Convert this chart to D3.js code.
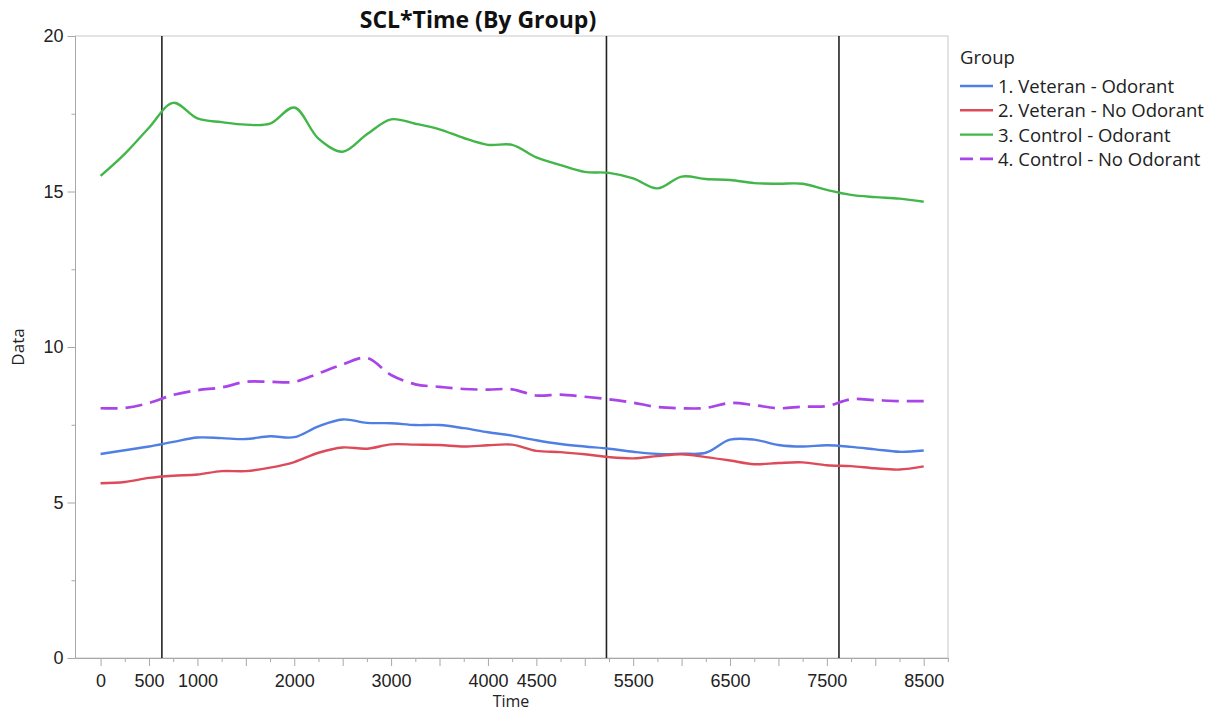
<!DOCTYPE html>
<html>
<head>
<meta charset="utf-8">
<script src="https://cdn.jsdelivr.net/npm/d3@7/dist/d3.min.js"></script>
<style>
  html, body { margin: 0; padding: 0; background: #fff; }
  svg { display: block; font-family: "Open Sans", "Noto Sans", sans-serif; }
</style>
</head>
<body>
<svg id="chart" width="1216" height="712"></svg>
<script>
// ---- data ----
const times = d3.range(0, 8501, 250);
const groups = ["1. Veteran - Odorant", "2. Veteran - No Odorant", "3. Control - Odorant", "4. Control - No Odorant"];
const veteranOdorant = [6.56, 6.68, 6.80, 6.95, 7.09, 7.07, 7.04, 7.13, 7.10, 7.45, 7.67, 7.56, 7.55, 7.49, 7.49, 7.39, 7.26, 7.15, 7.00, 6.88, 6.80, 6.73, 6.63, 6.56, 6.57, 6.60, 7.02, 7.02, 6.85, 6.80, 6.84, 6.79, 6.71, 6.63, 6.67];
const veteranNoOdorant = [5.62, 5.66, 5.79, 5.86, 5.90, 6.01, 6.01, 6.12, 6.30, 6.60, 6.77, 6.73, 6.87, 6.86, 6.85, 6.80, 6.84, 6.86, 6.66, 6.62, 6.55, 6.46, 6.42, 6.49, 6.55, 6.46, 6.35, 6.23, 6.27, 6.29, 6.20, 6.17, 6.10, 6.06, 6.16];
const controlOdorant = [15.50, 16.21, 17.05, 17.85, 17.35, 17.23, 17.15, 17.18, 17.70, 16.70, 16.28, 16.84, 17.32, 17.18, 17.00, 16.72, 16.50, 16.50, 16.10, 15.85, 15.63, 15.60, 15.42, 15.10, 15.48, 15.40, 15.37, 15.27, 15.25, 15.25, 15.05, 14.89, 14.82, 14.77, 14.67];
const controlNoOdorant = [8.03, 8.04, 8.20, 8.46, 8.61, 8.70, 8.88, 8.88, 8.88, 9.15, 9.44, 9.65, 9.10, 8.80, 8.72, 8.65, 8.63, 8.64, 8.44, 8.47, 8.40, 8.32, 8.21, 8.07, 8.03, 8.04, 8.20, 8.13, 8.03, 8.08, 8.10, 8.32, 8.29, 8.26, 8.26];
const refLines = [633, 5224, 7625];
const xTickLabels = [0, 500, 1000, 2000, 3000, 4000, 4500, 5500, 6500, 7500, 8500];
const yTickLabels = [0, 5, 10, 15, 20];

(function () {
const seriesValues = [veteranOdorant, veteranNoOdorant, controlOdorant, controlNoOdorant];
const colors = ["#4f7fe3", "#dd4a59", "#42b649", "#a844e8"];
const dashes = [null, null, null, "17,8"];

// ---- layout ----
const svg = d3.select("#chart");
const pLeft = 75.5, pRight = 948, pTop = 36, pBottom = 658;
const x = d3.scaleLinear().domain([-259, 8751]).range([pLeft, pRight]);
const y = d3.scaleLinear().domain([0, 20]).range([pBottom, pTop]);

// frame
svg.append("rect").attr("x", pLeft).attr("y", pTop).attr("width", pRight - pLeft).attr("height", pBottom - pTop)
  .attr("fill", "none").attr("stroke", "#c8c8c8").attr("stroke-width", 1);

// x axis
const xMinor = d3.range(0, 8751, 250).filter(v => v % 500 !== 0);
const xMajor = d3.range(0, 8751, 500);
const gx = svg.append("g").attr("transform", `translate(0,${pBottom})`);
gx.append("g").call(d3.axisBottom(x).tickValues(xMinor).tickSize(4).tickFormat(""))
  .call(g => g.select(".domain").remove());
gx.append("g").call(d3.axisBottom(x).tickValues(xMajor).tickSize(8).tickFormat(""))
  .call(g => g.select(".domain").remove());
gx.append("g").call(d3.axisBottom(x).tickValues(xTickLabels).tickSize(0).tickPadding(16).tickFormat(d3.format("d")))
  .call(g => g.select(".domain").remove());
gx.append("line").attr("x1", pLeft).attr("x2", pRight).attr("y1", 0.5).attr("y2", 0.5).attr("stroke", "#a8a8a8");
gx.selectAll(".tick line").attr("stroke", "#a8a8a8");
gx.selectAll(".tick text").attr("font-size", 18).attr("fill", "#222");

// y axis
const gy = svg.append("g").attr("transform", `translate(${pLeft},0)`);
gy.append("g").call(d3.axisLeft(y).tickValues([2.5, 7.5, 12.5, 17.5]).tickSize(4).tickFormat(""))
  .call(g => g.select(".domain").remove());
gy.append("g").call(d3.axisLeft(y).tickValues(yTickLabels).tickSize(8).tickPadding(4).tickFormat(d3.format("d")))
  .call(g => g.select(".domain").remove());
gy.append("line").attr("x1", 0).attr("x2", 0).attr("y1", pTop).attr("y2", pBottom).attr("stroke", "#a8a8a8");
gy.selectAll(".tick line").attr("stroke", "#a8a8a8");
gy.selectAll(".tick text").attr("font-size", 18).attr("fill", "#222");

// reference lines
svg.append("g").selectAll("line").data(refLines).join("line")
  .attr("x1", d => x(d)).attr("x2", d => x(d)).attr("y1", pTop).attr("y2", pBottom)
  .attr("stroke", "#222").attr("stroke-width", 1.6);

// series
const line = d3.line().x(d => x(d[0])).y(d => y(d[1])).curve(d3.curveCatmullRom.alpha(0.5));
seriesValues.forEach((vals, i) => {
  svg.append("path").datum(times.map((t, j) => [t, vals[j]]))
    .attr("d", line).attr("fill", "none").attr("stroke", colors[i])
    .attr("stroke-width", i === 3 ? 2.7 : 2.4)
    .attr("stroke-dasharray", dashes[i])
    .attr("stroke-linejoin", "round").attr("stroke-linecap", "butt");
});

// title and axis labels
svg.append("text").attr("x", 478).attr("y", 28).attr("text-anchor", "middle")
  .attr("font-size", 23).attr("font-weight", "bold").attr("fill", "#111").text("SCL*Time (By Group)");
svg.append("text").attr("x", 511).attr("y", 707).attr("text-anchor", "middle")
  .attr("font-size", 16).attr("fill", "#222").text("Time");
svg.append("text").attr("transform", "translate(24,347) rotate(-90)").attr("text-anchor", "middle")
  .attr("font-size", 17).attr("fill", "#222").text("Data");

// legend
const lg = svg.append("g").attr("transform", "translate(960,0)");
lg.append("text").attr("x", 0).attr("y", 64).attr("font-size", 18.5).attr("fill", "#222").text("Group");
groups.forEach((g, i) => {
  const yy = 86 + i * 24.3;
  lg.append("line").attr("x1", 0).attr("x2", 33).attr("y1", yy).attr("y2", yy)
    .attr("stroke", colors[i]).attr("stroke-width", i === 3 ? 2.7 : 2.4)
    .attr("stroke-dasharray", i === 3 ? "13,7" : null);
  lg.append("text").attr("x", 38).attr("y", yy + 7).attr("font-size", 18.5).attr("fill", "#222").text(g);
});
})();
</script>
</body>
</html>
